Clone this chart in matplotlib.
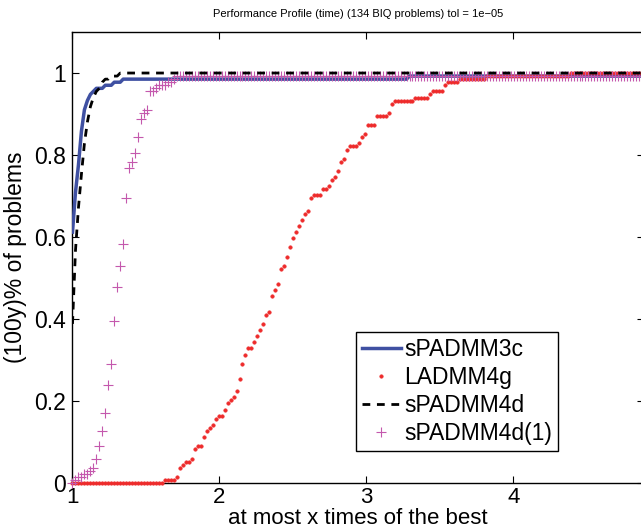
import numpy as np
import matplotlib
matplotlib.use("Agg")
import matplotlib.pyplot as plt

plt.rcParams['font.family'] = ['Liberation Sans', 'DejaVu Sans']

n_problems = 134
title = "Performance Profile (time) (134 BIQ problems) tol = 1e\u221205"
xlabel = "at most x times of the best"
ylabel = "(100y)% of problems"
names = ["sPADMM3c", "LADMM4g", "sPADMM4d", "sPADMM4d(1)"]

# evaluation grid of the profile (tau values)
tau_start = 1.0
tau_step = 0.0203
tau_end = 4.89

# step-profile breakpoints: ratio where the number of solved problems reaches count
blue_x = [1.0, 1.02, 1.04, 1.06, 1.08, 1.10, 1.12, 1.14, 1.16, 1.22, 1.265, 1.325, 3.276]
blue_n = [82, 95, 104, 115, 122, 125, 127, 128, 129, 130, 131, 132, 133]

red_x = [1.0, 1.619, 1.70, 1.723, 1.746, 1.762, 1.803, 1.821, 1.844, 1.882, 1.905, 1.923,
         1.944, 1.961, 1.984, 2.025, 2.046, 2.063, 2.082, 2.102, 2.122, 2.143, 2.163,
         2.184, 2.222, 2.240, 2.261, 2.281, 2.301, 2.324, 2.342, 2.363, 2.383, 2.404,
         2.424, 2.444, 2.463, 2.483, 2.503, 2.524, 2.544, 2.565, 2.585, 2.605, 2.624,
         2.641, 2.705, 2.726, 2.764, 2.784, 2.805, 2.823, 2.844, 2.864, 2.884, 2.946,
         2.964, 2.984, 3.005, 3.066, 3.145, 3.163, 3.182, 3.322, 3.424, 3.442, 3.526,
         3.544, 3.621, 3.803, 4.388]
red_n = [0, 1, 2, 5, 6, 7, 8, 11, 12, 15, 17, 18,
         19, 21, 22, 24, 26, 27, 28, 30, 34, 39, 42,
         44, 46, 48, 50, 52, 55, 56, 61, 63, 65, 70,
         71, 74, 77, 80, 82, 84, 86, 88, 89, 91, 93,
         94, 96, 97, 99, 100, 102, 105, 106, 109, 110, 111,
         113, 114, 117, 120, 121, 124, 125, 126, 127, 128, 130,
         131, 132, 133, 134]

black_x = [1.0, 1.02, 1.04, 1.06, 1.08, 1.10, 1.12, 1.14, 1.16, 1.18, 1.20, 1.22, 1.26, 1.32]
black_n = [52, 76, 90, 101, 111, 118, 123, 126, 128, 129, 131, 132, 133, 134]

mag_x = [1.0, 1.02, 1.04, 1.08, 1.12, 1.14, 1.16, 1.18, 1.20, 1.22, 1.24, 1.26, 1.28,
         1.30, 1.32, 1.34, 1.36, 1.38, 1.40, 1.42, 1.44, 1.46, 1.48, 1.50, 1.52, 1.56,
         1.58, 1.64, 1.69, 1.71]
mag_n = [0, 1, 2, 3, 4, 5, 8, 12, 17, 23, 32, 39, 53,
         64, 71, 78, 93, 103, 105, 108, 113, 119, 121, 122, 128, 129,
         130, 131, 132, 133]

tau = np.arange(tau_start, tau_end, tau_step)


def profile(bx, bn):
    idx = np.searchsorted(np.asarray(bx), tau + 1e-9, side='right') - 1
    return np.asarray(bn)[idx] / n_problems


fig = plt.figure(figsize=(6.41, 5.32), dpi=100)
ax = fig.add_axes([0.1131, 0.0921, 0.8916, 0.8477])

c_blue = '#3f50a2'
c_red = '#ee2b2b'
c_black = '#000000'
c_mag = '#c458ad'

ax.plot(tau, profile(blue_x, blue_n), color=c_blue, lw=2.5, label=names[0], zorder=3)
ax.plot(tau, profile(red_x, red_n), linestyle='none', marker='o', ms=2.6,
        mec=c_red, mfc=c_red, mew=0.3, label=names[1], clip_on=False, zorder=4)
ax.plot(tau, profile(black_x, black_n), color=c_black, lw=2.0, linestyle=(0, (2.8, 2.4)),
        label=names[2], zorder=5)
ax.plot(tau, profile(mag_x, mag_n), linestyle='none', marker='+', ms=7.5, mew=0.8,
        color=c_mag, label=names[3], clip_on=False, zorder=4)

ax.set_xlim(1.0, tau_end)
ax.set_ylim(0, 1.1)
ax.set_xticks([1, 2, 3, 4])
ax.set_xticklabels(['1', '2', '3', '4'])
ax.set_yticks([0, 0.2, 0.4, 0.6, 0.8, 1.0])
ax.set_yticklabels(['0', '0.2', '0.4', '0.6', '0.8', '1'])
ax.tick_params(direction='in', length=5, width=0.8, top=True, right=True,
               labelsize=16.5, pad=5)
ax.tick_params(axis='x', pad=3, labelsize=16)
for s in ax.spines.values():
    s.set_linewidth(1.0)

ax.set_xlabel(xlabel, fontsize=16, labelpad=0)
ax.set_ylabel(ylabel, fontsize=16.5, labelpad=5)
ax.set_title(title, fontsize=8, pad=11)

leg = ax.legend(loc='lower left', bbox_to_anchor=(0.496, 0.071), borderaxespad=0,
                fontsize=16.5, numpoints=1, fancybox=False, framealpha=1,
                edgecolor='black', handlelength=1.7, handletextpad=0.15,
                labelspacing=0.22, borderpad=0.25)
leg.get_frame().set_linewidth(1.0)

fig.savefig('out.png', dpi=100)
